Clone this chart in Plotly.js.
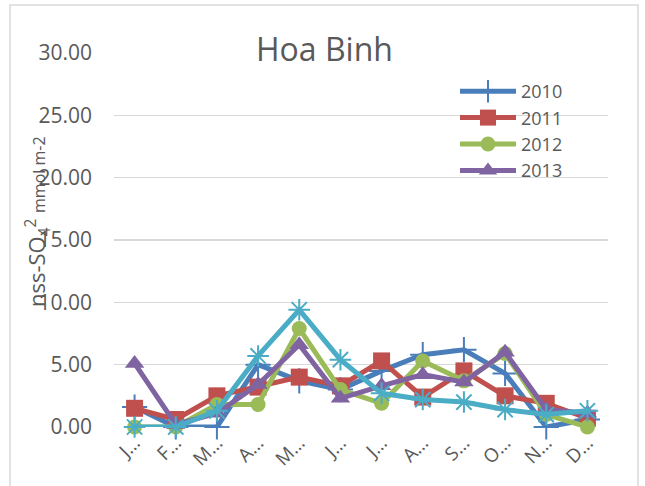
<!DOCTYPE html>
<html>
<head>
<meta charset="utf-8">
<script src="https://cdn.plot.ly/plotly-3.0.1.min.js"></script>
<style>html,body{margin:0;padding:0;background:#fff;}#chart{width:645px;height:486px;}</style>
</head>
<body>
<div id="chart"></div>
<script>
var months = ["January","February","March","April","May","June","July","August","September","October","November","December"];
var monthLabels = ["J…","F…","M…","A…","M…","J…","J…","A…","S…","O…","N…","D…"];
var yTicks = [0, 5, 10, 15, 20, 25, 30];
var yTickLabels = ["0.00","5.00","10.00","15.00","20.00","25.00","30.00"];

var s2010 = [1.6, 0, 0, 5.0, 3.7, 3.0, 4.5, 5.8, 6.2, 4.3, 0, 0.6];
var s2011 = [1.5, 0.6, 2.5, 3.2, 4.0, 3.3, 5.3, 2.4, 4.5, 2.5, 1.9, 0.7];
var s2012 = [0, 0, 1.8, 1.8, 7.9, 3.0, 1.9, 5.3, 3.7, 5.9, 1.0, 0];
var s2013 = [5.1, 0.2, 1.1, 3.4, 6.6, 2.3, 3.3, 4.2, 3.6, 6.0, 1.4, 1.1];
var s2014 = [0, 0, 1.3, 5.7, 9.4, 5.4, 2.7, 2.2, 2.0, 1.4, 1.0, 1.3];

var FONT = "Open Sans, Liberation Sans, sans-serif";
var GREY = "#595959";

function tr(name, y, color, symbol, size, open, show) {
  var m = {symbol: symbol, size: size, color: color};
  if (open) { m.line = {color: color, width: 2}; }
  return {
    type: "scatter", mode: "lines+markers", name: name, x: months, y: y,
    line: {color: color, width: 5},
    marker: m, cliponaxis: false, showlegend: show
  };
}

var data = [
  tr("2010", s2010, "#4A7EBB", "cross-thin-open", 18, true, true),
  tr("2011", s2011, "#C0504D", "square", 17, false, true),
  tr("2012", s2012, "#9BBB59", "circle", 15, false, true),
  tr("2013", s2013, "#8064A2", "triangle-up", 17, false, true),
  tr("2014", s2014, "#4BACC6", "asterisk-open", 18, true, false)
];

var L = 114, T = 53, W = 494, H = 374;
function px(x) { return (x - L) / W; }
function py(y) { return (T + H - y) / H; }

var layout = {
  width: 645, height: 486,
  margin: {l: L, r: 645 - L - W, t: T, b: 486 - T - H},
  paper_bgcolor: "#ffffff", plot_bgcolor: "#ffffff",
  font: {family: FONT, color: GREY, size: 20},
  showlegend: true,
  legend: {
    x: px(455), y: py(73), xanchor: "left", yanchor: "top",
    font: {family: FONT, size: 18, color: GREY},
    bgcolor: "rgba(0,0,0,0)", itemwidth: 56, tracegroupgap: 0
  },
  xaxis: {
    type: "category", range: [-0.5, 11.5],
    tickvals: months, ticktext: monthLabels,
    tickangle: -45, showgrid: false, zeroline: false, showline: false,
    ticks: "", tickfont: {family: FONT, size: 19, color: GREY}
  },
  yaxis: {
    range: [0, 30], tickvals: yTicks, ticktext: yTickLabels,
    showgrid: true, gridcolor: "#d9d9d9", gridwidth: 1.5,
    zeroline: false, showline: false, ticks: "",
    ticklabelstandoff: 21,
    tickfont: {family: FONT, size: 21, color: GREY}
  },
  shapes: [
    {type: "rect", xref: "paper", yref: "paper",
     x0: px(10), x1: px(638), y0: py(492), y1: py(5),
     line: {color: "#d9d9d9", width: 1.5}, layer: "below"}
  ],
  annotations: [
    {text: "Hoa Binh", xref: "paper", yref: "paper", x: px(324), y: py(49),
     xanchor: "center", yanchor: "middle", showarrow: false,
     font: {family: FONT, size: 32, color: GREY}},
    {text: "nss-SO<sub>4</sub><sup>2</sup> <span style='font-size:16px'>mmol m-2</span>",
     xref: "paper", yref: "paper", x: px(37), y: py(222),
     xanchor: "center", yanchor: "middle", textangle: -90, showarrow: false,
     font: {family: FONT, size: 22, color: GREY}}
  ]
};

Plotly.newPlot("chart", data, layout, {displayModeBar: false, staticPlot: true});
</script>
</body>
</html>
